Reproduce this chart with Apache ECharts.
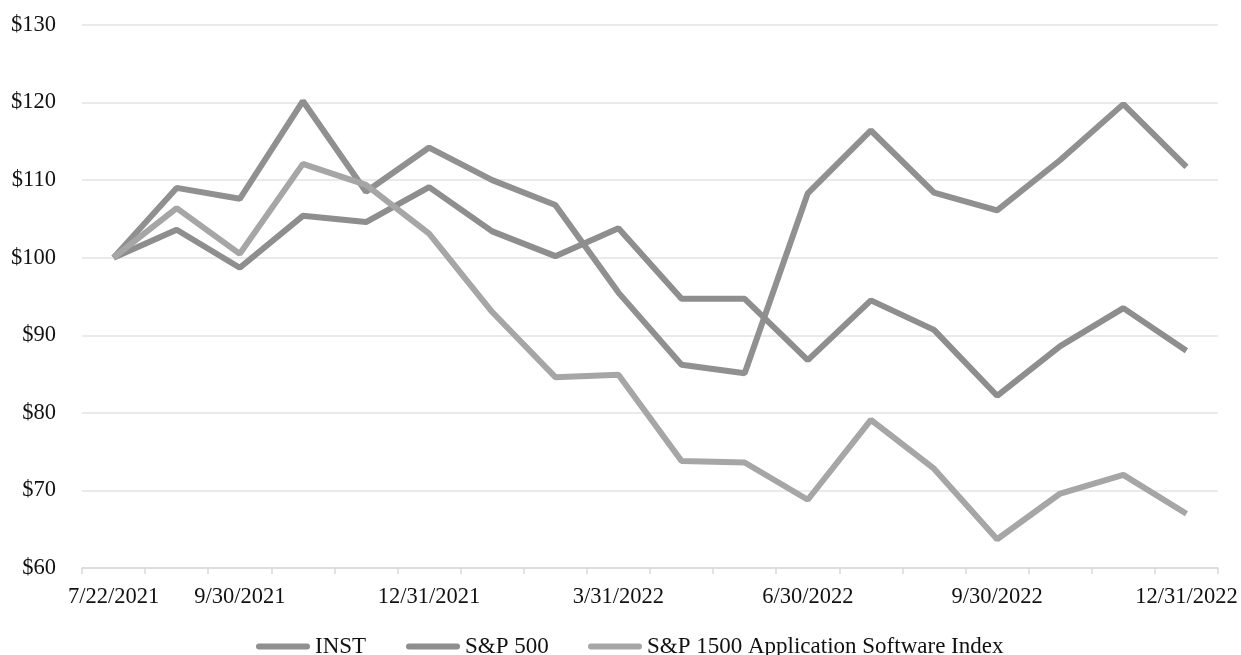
<!DOCTYPE html>
<html>
<head>
<meta charset="utf-8">
<script src="https://cdn.jsdelivr.net/npm/echarts@6/dist/echarts.min.js"></script>
<style>
  html, body { margin: 0; padding: 0; background: #fff; }
</style>
</head>
<body>
<div id="main" style="width: 1241px;height: 655px"></div>
<script>
// dates on the category axis (one per month end, first is the IPO date)
var dates = ['7/22/2021', '8/31/2021', '9/30/2021', '10/31/2021', '11/30/2021', '12/31/2021',
  '1/31/2022', '2/28/2022', '3/31/2022', '4/30/2022', '5/31/2022', '6/30/2022',
  '7/31/2022', '8/31/2022', '9/30/2022', '10/31/2022', '11/30/2022', '12/31/2022'];
// only these dates get a label
var labelledDates = ['7/22/2021', '9/30/2021', '12/31/2021', '3/31/2022', '6/30/2022', '9/30/2022', '12/31/2022'];

var inst = [100, 109.0, 107.6, 120.2, 108.5, 114.2, 110.0, 106.8, 95.5, 86.2, 85.1, 108.3, 116.4, 108.4, 106.1, 112.6, 119.8, 111.7];
var sp500 = [100, 103.6, 98.7, 105.4, 104.6, 109.1, 103.4, 100.2, 103.8, 94.7, 94.7, 86.8, 94.5, 90.7, 82.2, 88.6, 93.5, 88.0];
var sp1500 = [100, 106.4, 100.5, 112.1, 109.4, 103.1, 93.0, 84.6, 84.9, 73.8, 73.6, 68.8, 79.1, 72.8, 63.7, 69.6, 72.0, 67.0];

var seriesNames = ['INST', 'S&P 500', 'S&P 1500 Application Software Index'];

var chartDom = document.getElementById('main');
var myChart = echarts.init(chartDom);

var font = 'Liberation Serif, Times New Roman, serif';
var legendIcon = 'path://M3,0 H51 A3,3 0 0 1 51,6 H3 A3,3 0 0 1 3,0 Z';

function legendAt(name, left) {
  return {
    data: [name],
    left: left,
    top: 630,
    icon: legendIcon,
    itemWidth: 54,
    itemHeight: 6,
    textStyle: { fontFamily: font, fontSize: 23, color: '#111' }
  };
}

var option = {
  animation: false,
  backgroundColor: '#fff',
  legend: [
    legendAt(seriesNames[0], 251),
    legendAt(seriesNames[1], 401),
    legendAt(seriesNames[2], 583)
  ],
  grid: {
    left: 82,
    right: 23,
    top: 25,
    bottom: 87,
    containLabel: false
  },
  xAxis: {
    type: 'category',
    data: dates,
    boundaryGap: true,
    axisLine: { lineStyle: { color: '#d9d9d9', width: 1.5 } },
    axisTick: { show: true, interval: 0, length: 6, lineStyle: { color: '#d9d9d9', width: 1.5 } },
    axisLabel: {
      interval: function (index, value) {
        return labelledDates.indexOf(value) >= 0;
      },
      margin: 18,
      fontFamily: font,
      fontSize: 22.5,
      color: '#111'
    }
  },
  yAxis: {
    type: 'value',
    min: 60,
    max: 130,
    interval: 10,
    axisLine: { show: false },
    axisTick: { show: false },
    splitLine: { lineStyle: { color: '#e3e3e3', width: 1.5 } },
    axisLabel: {
      margin: 26,
      fontFamily: font,
      fontSize: 22.5,
      color: '#111',
      formatter: function (v) { return '$' + v; }
    }
  },
  series: [
    {
      name: seriesNames[0],
      type: 'line',
      data: inst,
      showSymbol: false,
      symbol: 'none',
      color: '#909090',
      lineStyle: { width: 6, color: '#909090' }
    },
    {
      name: seriesNames[1],
      type: 'line',
      data: sp500,
      showSymbol: false,
      symbol: 'none',
      color: '#8e8e8e',
      lineStyle: { width: 6, color: '#8e8e8e' }
    },
    {
      name: seriesNames[2],
      type: 'line',
      data: sp1500,
      showSymbol: false,
      symbol: 'none',
      color: '#a6a6a6',
      lineStyle: { width: 6, color: '#a6a6a6' }
    }
  ]
};

option && myChart.setOption(option);
</script>
</body>
</html>
